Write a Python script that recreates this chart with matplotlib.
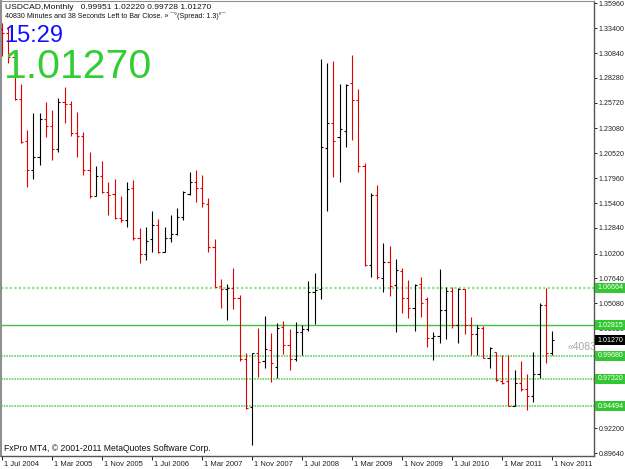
import matplotlib
matplotlib.use("Agg")
import matplotlib.pyplot as plt
from matplotlib.collections import LineCollection
from matplotlib.patches import Rectangle
from matplotlib.transforms import ScaledTranslation, blended_transform_factory

plt.rcParams['font.family'] = ['Liberation Sans', 'DejaVu Sans']

# USDCAD monthly bars, Jul 2004 .. Nov 2011 (one entry per month)
opens = [1.3330, 1.3290, 1.3040, 1.2611, 1.2175, 1.1880, 1.2010, 1.2402, 1.2335, 1.2096,
         1.2583, 1.2556, 1.2257, 1.2230, 1.1880, 1.1615, 1.1818, 1.1656, 1.1632, 1.1382,
         1.1365, 1.1691, 1.1176, 1.1011, 1.1169, 1.1313, 1.1032, 1.1176, 1.1217, 1.1398,
         1.1632, 1.1759, 1.1697, 1.1527, 1.1090, 1.0688, 1.0650, 1.0667, 1.0558, 0.9930,
         0.9441, 0.9992, 0.9915, 1.0026, 0.9853, 1.0259, 1.0077, 0.9933, 1.0214, 1.0239,
         1.0620, 1.0651, 1.2103, 1.2367, 1.2222, 1.2284, 1.2779, 1.2601, 1.1921, 1.0901,
         1.1622, 1.0764, 1.0935, 1.0695, 1.0842, 1.0558, 1.0460, 1.0705, 1.0548, 1.0150,
         1.0170, 1.0437, 1.0633, 1.0283, 1.0651, 1.0283, 1.0190, 1.0255, 0.9940, 1.0002,
         0.9709, 0.9706, 0.9449, 0.9683, 0.9624, 0.9552, 0.9775, 1.0489, 0.99951]
highs = [1.3396, 1.3340, 1.3115, 1.2762, 1.2292, 1.2471, 1.2471, 1.2583, 1.2498, 1.2618,
         1.2737, 1.2593, 1.2480, 1.2268, 1.2068, 1.1924, 1.1972, 1.1759, 1.1791, 1.1612,
         1.1753, 1.1776, 1.1279, 1.1289, 1.1460, 1.1375, 1.1295, 1.1416, 1.1491, 1.1666,
         1.1856, 1.1879, 1.1828, 1.1594, 1.1169, 1.0757, 1.0702, 1.0873, 1.0592, 0.9995,
         0.9995, 1.0255, 1.0376, 1.0198, 1.0301, 1.0327, 1.0239, 1.0317, 1.0283, 1.0739,
         1.0822, 1.3020, 1.2979, 1.3002, 1.2762, 1.2762, 1.3064, 1.2714, 1.1949, 1.1640,
         1.1725, 1.1131, 1.1100, 1.0963, 1.0867, 1.0746, 1.0702, 1.0780, 1.0574, 1.0214,
         1.0857, 1.0671, 1.0671, 1.0661, 1.0651, 1.0362, 1.0283, 1.0273, 1.0053, 1.0008,
         0.9974, 0.9974, 0.9820, 0.9912, 0.9782, 1.0008, 1.0510, 1.0661, 1.02220]
lows = [1.3052, 1.2980, 1.2601, 1.2155, 1.1707, 1.1787, 1.1935, 1.2222, 1.1983, 1.2062,
        1.2361, 1.2230, 1.2016, 1.1828, 1.1588, 1.1615, 1.1640, 1.1416, 1.1372, 1.1347,
        1.1289, 1.1158, 1.0925, 1.0952, 1.1032, 1.1021, 1.1032, 1.1141, 1.1210, 1.1365,
        1.1622, 1.1553, 1.1495, 1.1038, 1.0671, 1.0461, 1.0334, 1.0448, 0.9912, 0.9415,
        0.9047, 0.9751, 0.9837, 0.9699, 0.9734, 0.9984, 0.9820, 0.9915, 0.9974, 1.0224,
        1.0293, 1.0548, 1.1460, 1.1810, 1.1759, 1.2120, 1.2189, 1.1856, 1.0891, 1.0774,
        1.0754, 1.0626, 1.0585, 1.0208, 1.0410, 1.0352, 1.0221, 1.0368, 1.0053, 0.9923,
        1.0094, 1.0136, 1.0255, 1.0101, 1.0187, 0.9974, 0.9974, 0.9940, 0.9837, 0.9709,
        0.9675, 0.9449, 0.9449, 0.9603, 0.9408, 0.9487, 0.9734, 0.9895, 0.99728]
closes = [1.3290, 1.3040, 1.2611, 1.2171, 1.1880, 1.2010, 1.2402, 1.2335, 1.2096, 1.2583,
          1.2556, 1.2257, 1.2230, 1.1880, 1.1615, 1.1818, 1.1656, 1.1622, 1.1382, 1.1364,
          1.1684, 1.1176, 1.1011, 1.1151, 1.1313, 1.1032, 1.1176, 1.1217, 1.1398, 1.1656,
          1.1759, 1.1697, 1.1537, 1.1090, 1.0677, 1.0654, 1.0667, 1.0558, 0.9930, 0.9425,
          0.9992, 0.9899, 1.0033, 0.9889, 1.0249, 1.0077, 0.9933, 1.0214, 1.0242, 1.0620,
          1.0644, 1.2113, 1.2367, 1.2178, 1.2299, 1.2755, 1.2601, 1.1921, 1.0901, 1.1622,
          1.0774, 1.0935, 1.0688, 1.0849, 1.0558, 1.0455, 1.0695, 1.0513, 1.0152, 1.0170,
          1.0437, 1.0633, 1.0283, 1.0651, 1.0283, 1.0190, 1.0255, 0.9940, 1.0043, 0.9717,
          0.9689, 0.9449, 0.9683, 0.9624, 0.9552, 0.9775, 1.0489, 0.9991, 1.01270]

date_ticks = [0, 8, 16, 24, 32, 40, 48, 56, 64, 72, 80, 88]
date_labels = ["1 Jul 2004", "1 Mar 2005", "1 Nov 2005", "1 Jul 2006", "1 Mar 2007",
               "1 Nov 2007", "1 Jul 2008", "1 Mar 2009", "1 Nov 2009", "1 Jul 2010",
               "1 Mar 2011", "1 Nov 2011"]
price_ticks = [1.35960, 1.33400, 1.30840, 1.28280, 1.25720, 1.23080, 1.20520, 1.17960,
               1.15400, 1.12840, 1.10200, 1.07640, 1.05080, 1.02520, 0.94760, 0.92200,
               0.89640]
level_prices = [1.06664, 1.02815, 0.99680, 0.97320, 0.94494]
last_price = 1.01270

W, H = 625, 469
fig = plt.figure(figsize=(W / 100, H / 100), dpi=100)
ax = fig.add_axes([1 / W, (H - 455.5) / H, 593 / W, 454.5 / H])
ax.set_xlim(-0.16, 94.72)
ax.set_ylim(0.8940, 1.3620)
px_price = (1.3620 - 0.8940) / 454.5  # price per pixel

# OHLC bars
red = '#e00000'
segs, cols = [], []
for i, (o, h, l, c) in enumerate(zip(opens, highs, lows, closes)):
    col = 'black' if c >= o else red
    segs += [[(i, l), (i, h)], [(i - 0.34, o), (i, o)], [(i, c), (i + 0.34, c)]]
    cols += [col] * 3
ax.add_collection(LineCollection(segs, colors=cols, linewidths=0.8, zorder=3))

# horizontal levels
ax.axhline(level_prices[0], color='#8fe08f', lw=1.6, ls=(0, (1, 1)), zorder=2)
ax.axhline(level_prices[1], color='#44c044', lw=1.0, zorder=2)
for v in level_prices[2:]:
    ax.axhline(v, color='#66d066', lw=1.2, ls=(0, (1, 0.6)), zorder=2)

# axes look
for s in ['top', 'left']:
    ax.spines[s].set_color('#909090')
ax.spines['left'].set_linewidth(1.5)
for s in ['right', 'bottom']:
    ax.spines[s].set_color('#555555')
    ax.spines[s].set_linewidth(1.0)

ax.yaxis.tick_right()
ax.set_yticks(price_ticks)
ax.set_yticklabels([f"{v:.5f}" for v in price_ticks])
ax.tick_params(axis='y', length=2.2, width=0.7, pad=1.0, labelsize=5.1, colors='#222222')
ax.set_xticks(date_ticks)
ax.set_xticklabels(date_labels, ha='left')
ax.tick_params(axis='x', length=2.6, width=0.7, pad=1.0, labelsize=5.5, colors='#222222')
shift = ScaledTranslation(2 / 100, 0, fig.dpi_scale_trans)
for lab in ax.get_xticklabels():
    lab.set_transform(lab.get_transform() + shift)

# price labels on the right
tr = blended_transform_factory(fig.transFigure, ax.transData)
for v in level_prices:
    ax.add_patch(Rectangle((595 / W, v - 5 * px_price), 30 / W, 10 * px_price,
                           transform=tr, facecolor='#33c833', edgecolor='none',
                           clip_on=False, zorder=5))
    ax.text(597.5 / W, v, f"{v:.5f}", transform=tr, color='white', fontsize=5.1,
            va='center', ha='left', clip_on=False, zorder=6)
ax.add_patch(Rectangle((595 / W, last_price - 5 * px_price), 30 / W, 10 * px_price,
                       transform=tr, facecolor='black', edgecolor='none',
                       clip_on=False, zorder=5))
ax.text(597.5 / W, last_price, f"{last_price:.5f}", transform=tr, color='white',
        fontsize=5.1, va='center', ha='left', clip_on=False, zorder=6)

# bar countdown, cut by the price panel like in the terminal
ax.text(568 / W, 1 - 347.5 / H, "\u00ab4083", transform=fig.transFigure, color='#a8a8a8',
        fontsize=7.5, va='center', ha='left', clip_on=True, zorder=4)


def fpos(x, y):
    return x / W, 1 - y / H


fig.text(*fpos(5, 9), "USDCAD,Monthly   0.99951 1.02220 0.99728 1.01270", fontsize=6.1,
         color='#111111')
fig.text(*fpos(5, 18), "40830 Minutes and 38 Seconds Left to Bar Close. \u00bb \u00af\u00b0(Spread: 1.3)\u00b0\u00af",
         fontsize=5.15, color='#111111')
fig.text(*fpos(4, 42), "15:29", fontsize=17, color='#1010ff')
fig.text(*fpos(4, 77.5), "1.01270", fontsize=29.5, color='#32cd32')
fig.text(*fpos(4, 450.5), "FxPro MT4, \u00a9 2001-2011 MetaQuotes Software Corp.", fontsize=6.2,
         color='#111111')

fig.savefig("out.png", dpi=100)
